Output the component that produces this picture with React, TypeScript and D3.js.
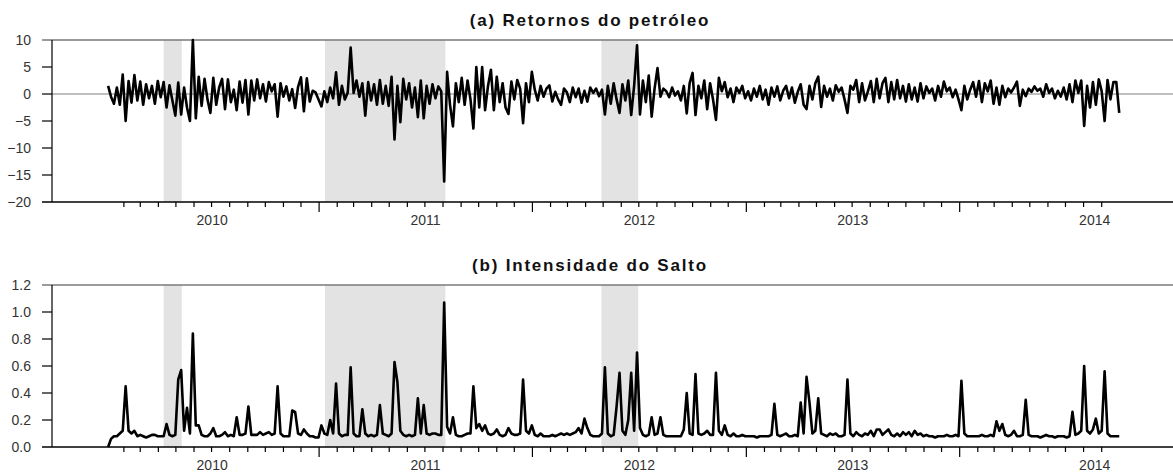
import React, { useEffect, useRef } from "react";
import * as d3 from "d3";

// (a) retornos do petróleo, uma observação a cada 5 dias, por ano
const oil2010 = [1.5, -0.5, -1.8, 1.2, -2.0, 3.6, -5.0, 2.4, -1.6, 3.5,
  -1.2, 2.3, -2.0, 1.8, -0.8, 1.5, -1.8, 2.4, -0.6, 2.2,
  -2.5, 1.6, -1.2, -4.0, 2.1, -3.8, 1.2, -2.5, -5.0, 10.0,
  -4.5, 3.2, -2.2, 2.8, -1.0, -3.5, 3.0, -2.0, 1.2, 2.8,
  -2.8, 2.7, -1.5, 0.8, -3.0, 2.3, -1.6, 2.6, -3.8, 2.5,
  -1.2, 2.7, -0.8, 1.8, -1.4, 2.2, 0.5, 1.8, -4.2, 2.0,
  -0.5, 1.4, -1.2, 0.9, -2.6, 1.3, 3.1, -3.2, 2.9, -1.4,
  0.6, 0.3, -1.0];
const oil2011 = [-2.3, 0.5, -1.5, 1.2, -0.8, 4.0, -2.0, 1.5, -1.0, 0.3,
  8.6, 0.2, 2.5, -0.5, 2.0, -4.0, 2.2, -1.2, 1.8, -2.0,
  2.6, -1.8, 1.5, -2.2, 3.2, -8.4, 1.5, -5.2, 2.8, -1.0,
  2.0, -2.5, 1.2, -4.3, 2.5, -4.5, 1.5, -1.8, 1.8, -0.8,
  1.4, 0.5, -16.2, 4.1, -2.0, -6.0, 2.0, -1.5, 3.0, -2.0,
  2.5, -1.0, -6.4, 5.0, -2.5, 5.0, -3.0, 1.5, 4.5, -3.0,
  3.2, -1.5, 2.0, -2.5, -3.7, 2.3, -1.0, 2.6, 1.0, -5.4,
  2.0, -1.5, 4.1];
const oil2012 = [0.8, -1.2, 1.5, -0.5, 1.0, 1.6, -1.4, 0.4, -1.0, -2.0,
  1.0, 0.3, -1.5, 1.2, -0.6, 1.0, -1.6, 0.6, -1.4, 1.2,
  0.2, 1.0, -0.4, 0.8, -3.8, 1.5, -1.8, 2.0, -1.0, -3.5,
  1.8, -1.2, 2.5, -3.9, 1.5, 9.0, -3.8, 2.5, -1.5, 3.4,
  -4.2, 1.0, 4.8, -0.5, 1.0, 0.5, -0.6, 1.2, -0.3, 0.5,
  -1.2, 1.5, -3.6, 2.0, 3.9, -3.9, 1.5, -0.8, 2.5, -2.8,
  2.0, -1.0, -4.8, 3.0, 0.5, 2.2, -0.6, 1.0, -1.5, 1.2,
  0.2, 1.5, -0.8];
const oil2013 = [0.5, -1.2, 1.0, -0.5, 1.5, -1.0, 0.8, -2.0, 1.2, -0.5,
  1.4, -1.2, 0.6, 1.5, -0.8, 1.2, -1.6, 0.4, 1.8, -2.0,
  -2.8, 1.5, -1.0, 2.0, 3.2, -2.4, 1.5, -0.5, 1.0, -1.2,
  1.6, 0.4, 1.2, -1.0, -3.5, 1.5, 0.8, 2.6, -1.5, 2.0,
  -1.2, 0.5, 2.4, -1.5, 2.8, -0.8, 2.0, 3.0, -1.5, 2.2,
  -1.0, 2.6, -0.8, 1.5, -1.4, 1.8, -1.0, 1.2, -1.4, 2.0,
  -0.8, 1.4, 0.2, 1.0, -1.2, 1.5, -0.5, 2.3, 0.5, 1.2,
  -0.6, 0.8, -1.0];
const oil2014 = [-3.0, 1.5, -1.0, 0.8, 2.2, -0.5, 2.4, -1.5, 2.0, 0.5,
  2.5, -1.8, 1.2, -2.0, 1.5, -0.6, 1.0, 0.3, 1.2, 2.3,
  -2.2, 0.8, -0.4, 1.0, 0.4, 1.4, 0.6, 1.0, -0.5, 1.8,
  0.2, 1.0, -0.8, 0.6, -0.5, 1.2, -1.0, 1.8, -1.5, 2.5,
  0.2, 2.5, -5.9, 1.5, -2.5, 2.2, -2.0, 2.7, 0.5, -5.0,
  2.6, -1.0, 2.2, 2.2, -3.5];

// (b) intensidade do salto
const jump2010 = [0.0, 0.06, 0.08, 0.08, 0.10, 0.12, 0.45, 0.12, 0.10, 0.12,
  0.08, 0.09, 0.08, 0.07, 0.08, 0.09, 0.09, 0.08, 0.08, 0.08,
  0.17, 0.09, 0.08, 0.09, 0.50, 0.57, 0.12, 0.29, 0.10, 0.84,
  0.16, 0.16, 0.09, 0.08, 0.08, 0.10, 0.14, 0.08, 0.08, 0.09,
  0.11, 0.08, 0.09, 0.08, 0.22, 0.09, 0.09, 0.10, 0.30, 0.09,
  0.09, 0.09, 0.11, 0.09, 0.10, 0.11, 0.09, 0.10, 0.45, 0.10,
  0.08, 0.08, 0.08, 0.27, 0.26, 0.10, 0.09, 0.13, 0.10, 0.08,
  0.08, 0.07, 0.07];
const jump2011 = [0.16, 0.10, 0.09, 0.20, 0.10, 0.47, 0.10, 0.08, 0.09, 0.09,
  0.59, 0.10, 0.08, 0.08, 0.28, 0.10, 0.08, 0.09, 0.08, 0.09,
  0.31, 0.10, 0.09, 0.08, 0.10, 0.63, 0.48, 0.12, 0.09, 0.08,
  0.09, 0.08, 0.09, 0.36, 0.10, 0.31, 0.10, 0.09, 0.10, 0.10,
  0.09, 0.09, 1.07, 0.15, 0.10, 0.22, 0.09, 0.08, 0.08, 0.09,
  0.10, 0.10, 0.45, 0.14, 0.17, 0.12, 0.16, 0.10, 0.09, 0.10,
  0.13, 0.09, 0.08, 0.09, 0.14, 0.10, 0.09, 0.09, 0.10, 0.50,
  0.12, 0.10, 0.16];
const jump2012 = [0.09, 0.08, 0.10, 0.08, 0.08, 0.08, 0.09, 0.08, 0.09, 0.10,
  0.09, 0.10, 0.09, 0.10, 0.11, 0.14, 0.10, 0.21, 0.14, 0.09,
  0.08, 0.08, 0.08, 0.10, 0.59, 0.10, 0.08, 0.09, 0.30, 0.55,
  0.12, 0.09, 0.20, 0.55, 0.12, 0.70, 0.14, 0.09, 0.08, 0.09,
  0.22, 0.09, 0.10, 0.22, 0.09, 0.08, 0.08, 0.08, 0.08, 0.08,
  0.08, 0.13, 0.40, 0.10, 0.09, 0.54, 0.10, 0.09, 0.10, 0.12,
  0.09, 0.09, 0.55, 0.12, 0.09, 0.16, 0.09, 0.08, 0.10, 0.08,
  0.08, 0.09, 0.08];
const jump2013 = [0.08, 0.08, 0.08, 0.07, 0.08, 0.08, 0.08, 0.08, 0.09, 0.32,
  0.09, 0.08, 0.09, 0.10, 0.08, 0.08, 0.09, 0.08, 0.33, 0.10,
  0.52, 0.33, 0.10, 0.12, 0.36, 0.10, 0.09, 0.08, 0.10, 0.09,
  0.10, 0.08, 0.08, 0.09, 0.50, 0.10, 0.08, 0.11, 0.09, 0.08,
  0.10, 0.09, 0.12, 0.08, 0.13, 0.13, 0.09, 0.11, 0.13, 0.09,
  0.08, 0.10, 0.08, 0.11, 0.09, 0.11, 0.08, 0.12, 0.09, 0.10,
  0.08, 0.09, 0.08, 0.08, 0.07, 0.08, 0.08, 0.08, 0.09, 0.08,
  0.08, 0.09, 0.08];
const jump2014 = [0.49, 0.10, 0.08, 0.08, 0.08, 0.08, 0.08, 0.09, 0.08, 0.08,
  0.09, 0.08, 0.19, 0.12, 0.17, 0.09, 0.08, 0.09, 0.12, 0.08,
  0.08, 0.09, 0.35, 0.09, 0.08, 0.08, 0.08, 0.07, 0.08, 0.09,
  0.08, 0.08, 0.07, 0.08, 0.08, 0.08, 0.07, 0.08, 0.26, 0.09,
  0.10, 0.12, 0.60, 0.12, 0.10, 0.13, 0.21, 0.10, 0.12, 0.56,
  0.10, 0.08, 0.08, 0.08, 0.08];

// periodos sombreados
const shaded = [
  { start: "2010-04-10", end: "2010-05-11" },
  { start: "2011-01-11", end: "2011-08-05" },
  { start: "2012-04-28", end: "2012-06-30" },
];

const yearLabels = [
  { label: "2010", date: "2010-07-02" },
  { label: "2011", date: "2011-07-02" },
  { label: "2012", date: "2012-07-02" },
  { label: "2013", date: "2013-07-02" },
  { label: "2014", date: "2014-08-20" },
];

const oilTicks = [-20, -15, -10, -5, 0, 5, 10];
const jumpTicks = [0, 0.2, 0.4, 0.6, 0.8, 1.0, 1.2];

const W = 1173, H = 472;
const FONT = "'Liberation Sans', Arial, sans-serif";

function App() {
  const ref = useRef(null);

  useEffect(() => {
    const svg = d3.select(ref.current);
    svg.selectAll("*").remove();

    const parse = d3.utcParse("%Y-%m-%d");
    const first = parse("2010-01-05");
    const oil = [...oil2010, ...oil2011, ...oil2012, ...oil2013, ...oil2014];
    const jump = [...jump2010, ...jump2011, ...jump2012, ...jump2013, ...jump2014];
    const dates = oil.map((_, i) => d3.utcDay.offset(first, 5 * i));

    const x = d3.scaleUtc()
      .domain([parse("2009-10-01"), parse("2015-01-01")])
      .range([52, W]);

    const months = d3.utcMonth.range(parse("2010-02-01"), parse("2014-10-01"));

    function panel(opts) {
      const { title, titleY, top, bottom, domain, ticks, fmt, values, zero } = opts;
      const y = d3.scaleLinear().domain(domain).range([bottom, top]);
      const g = svg.append("g");

      g.selectAll("rect.shade")
        .data(shaded)
        .enter().append("rect")
        .attr("x", d => x(parse(d.start)))
        .attr("width", d => x(parse(d.end)) - x(parse(d.start)))
        .attr("y", top)
        .attr("height", bottom - top)
        .attr("fill", "#e3e3e3");

      if (zero) {
        g.append("line")
          .attr("x1", 52).attr("x2", W)
          .attr("y1", y(0)).attr("y2", y(0))
          .attr("stroke", "#808080").attr("stroke-width", 1.2);
      }

      // borda superior
      g.append("line")
        .attr("x1", 42).attr("x2", W)
        .attr("y1", top).attr("y2", top)
        .attr("stroke", "#7a7a7a").attr("stroke-width", 1.5);

      const line = d3.line()
        .x((d, i) => x(dates[i]))
        .y(d => y(d));

      g.append("path")
        .datum(values)
        .attr("d", line)
        .attr("fill", "none")
        .attr("stroke", "#000")
        .attr("stroke-width", 2.6)
        .attr("stroke-linejoin", "round");

      // eixo y
      g.append("line")
        .attr("x1", 52).attr("x2", 52)
        .attr("y1", top).attr("y2", bottom)
        .attr("stroke", "#000").attr("stroke-width", 1.2);

      g.selectAll("line.ytick")
        .data(ticks.slice(1, -1))
        .enter().append("line")
        .attr("x1", 42).attr("x2", 52)
        .attr("y1", d => y(d)).attr("y2", d => y(d))
        .attr("stroke", "#000").attr("stroke-width", 1.2);

      g.selectAll("text.ylab")
        .data(ticks)
        .enter().append("text")
        .attr("x", 31)
        .attr("y", d => y(d))
        .attr("dy", "0.36em")
        .attr("text-anchor", "end")
        .attr("font-family", FONT)
        .attr("font-size", 14)
        .attr("fill", "#333")
        .text(d => fmt(d));

      // eixo x
      g.append("line")
        .attr("x1", 42).attr("x2", W)
        .attr("y1", bottom).attr("y2", bottom)
        .attr("stroke", "#000").attr("stroke-width", 1.5);

      g.selectAll("line.xtick")
        .data(months)
        .enter().append("line")
        .attr("x1", d => x(d)).attr("x2", d => x(d))
        .attr("y1", bottom)
        .attr("y2", d => bottom + (d.getUTCMonth() === 0 ? 10 : 5))
        .attr("stroke", "#000").attr("stroke-width", 1.2);

      g.selectAll("text.xlab")
        .data(yearLabels)
        .enter().append("text")
        .attr("x", d => x(parse(d.date)))
        .attr("y", bottom + 23)
        .attr("text-anchor", "middle")
        .attr("font-family", FONT)
        .attr("font-size", 14)
        .attr("fill", "#333")
        .text(d => d.label);

      g.append("text")
        .attr("x", 590)
        .attr("y", titleY)
        .attr("text-anchor", "middle")
        .attr("font-family", FONT)
        .attr("font-weight", "bold")
        .attr("font-size", 17)
        .attr("letter-spacing", 1.8)
        .attr("fill", "#111")
        .text(title);
    }

    panel({
      title: "(a) Retornos do petróleo",
      titleY: 26,
      top: 40,
      bottom: 202,
      domain: [-20, 10],
      ticks: oilTicks,
      fmt: d3.format("d"),
      values: oil,
      zero: true,
    });

    panel({
      title: "(b) Intensidade do Salto",
      titleY: 271,
      top: 285,
      bottom: 447,
      domain: [0, 1.2],
      ticks: jumpTicks,
      fmt: d3.format(".1f"),
      values: jump,
      zero: false,
    });
  }, []);

  return (
    <svg
      ref={ref}
      width={W}
      height={H}
      style={{ position: "absolute", left: 0, top: 0, background: "#fff" }}
    />
  );
}

export default App;
